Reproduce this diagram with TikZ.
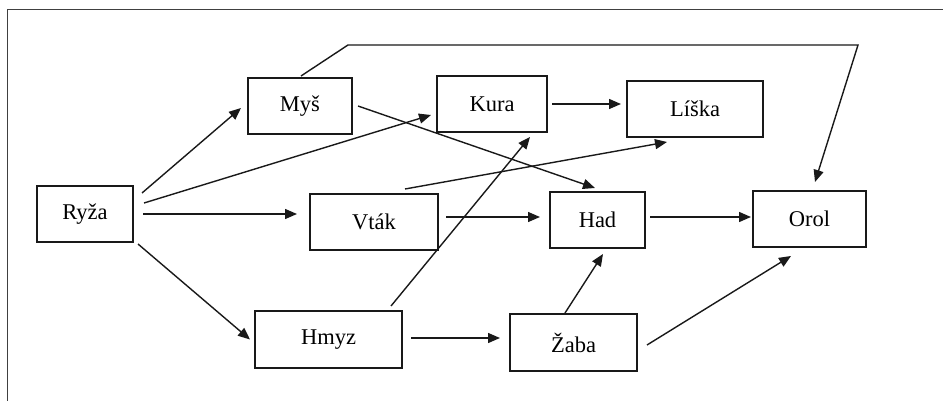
\documentclass[tikz,border=0pt]{standalone}
\usepackage{fontspec}
\setmainfont{Liberation Serif}
\usetikzlibrary{arrows.meta}
\begin{document}
\begin{tikzpicture}[x=1pt,y=-1pt,
  box/.style={draw=black!90,line width=1.5pt,inner sep=0pt,outer sep=0pt,
    minimum height=56pt,font=\fontsize{22.5}{26}\selectfont},
  arr/.style={draw=black!90,line width=1.4pt,-{Triangle[length=12pt,width=10pt]}}]
\useasboundingbox (0,0) rectangle (943,401);
\draw[draw=black!75,line width=1.2pt] (943,9.5) -- (7.5,9.5) -- (7.5,401);
\node[box,minimum width=96pt]  (ryza)  at (85,214)    {Ryža};
\node[box,minimum width=104pt] (mys)   at (300,106)   {Myš};
\node[box,minimum width=110pt] (kura)  at (492,104)   {Kura};
\node[box,minimum width=136pt] (liska) at (695,109)   {Líška};
\node[box,minimum width=128pt] (vtak)  at (374,222)   {Vták};
\node[box,minimum width=95pt]  (had)   at (597.5,220) {Had};
\node[box,minimum width=113pt] (orol)  at (809.5,219) {Orol};
\node[box,minimum width=147pt,minimum height=57pt] (hmyz) at (328.5,339.5) {Hmyz};
\node[box,minimum width=127pt,minimum height=57pt] (zaba) at (573.5,342.5) {Žaba};
\coordinate (c1) at (348,45);
\coordinate (c2) at (858,45);
% connectors
\draw[arr] ([shift={(9,7)}]ryza.north east) -- ([shift={(-7,2)}]mys.west);
\draw[arr] ([shift={(11,-11)}]ryza.east) -- ([shift={(-6,11)}]kura.west);
\draw[arr] ([shift={(10,0)}]ryza.east) -- ([shift={(-13,-8)}]vtak.west);
\draw[arr] ([shift={(5,2)}]ryza.south east) -- ([shift={(-5,0)}]hmyz.west);
\draw[arr] ([shift={(6,0)}]mys.east) -- ([shift={(-2.5,-4)}]had.north);
\draw[arr] ([shift={(1,-2)}]mys.north) -- (c1) -- (c2) -- ([shift={(5.5,-9)}]orol.north);
\draw[arr] ([shift={(5,0)}]kura.east) -- ([shift={(-6,-5)}]liska.west);
\draw[arr] ([shift={(31,-5)}]vtak.north) -- ([shift={(-28,5)}]liska.south);
\draw[arr] ([shift={(8,-5)}]vtak.east) -- ([shift={(-10,-3)}]had.west);
\draw[arr] ([shift={(62.5,-5)}]hmyz.north) -- ([shift={(38,5)}]kura.south);
\draw[arr] ([shift={(5,-3)}]had.east) -- ([shift={(-2,-2)}]orol.west);
\draw[arr] ([shift={(9,-1.5)}]hmyz.east) -- ([shift={(-10,-4.5)}]zaba.west);
\draw[arr] ([shift={(-8.5,-1)}]zaba.north) -- ([shift={(5.5,6)}]had.south);
\draw[arr] ([shift={(10,2.5)}]zaba.east) -- ([shift={(-18.5,9)}]orol.south);
\end{tikzpicture}
\end{document}
